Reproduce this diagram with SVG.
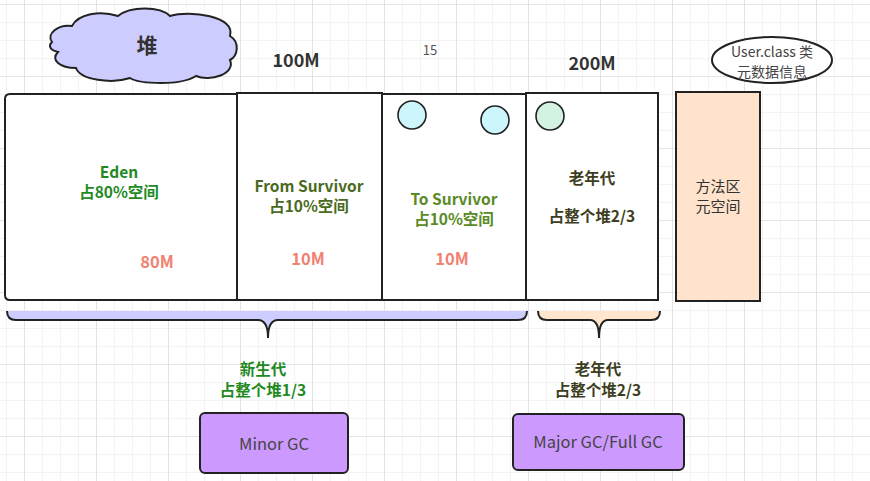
<svg xmlns="http://www.w3.org/2000/svg" width="870" height="481" viewBox="0 0 870 481">
<defs>
<pattern id="gmin" x="6" y="4" width="18" height="18" patternUnits="userSpaceOnUse">
<path d="M0,0 V18 M0,0 H18" stroke="#e8e8e8" stroke-width="1" fill="none"/>
</pattern>
<pattern id="gmaj" x="24" y="4" width="72" height="72" patternUnits="userSpaceOnUse">
<path d="M0,0 V72 M0,0 H72" stroke="#d8d8d8" stroke-width="1.2" fill="none"/>
</pattern>
</defs>
<style>
.box{fill:#fff;stroke:#222;stroke-width:2}
.t{font-family:"Noto Sans CJK SC","Noto Sans",sans-serif;text-anchor:middle}
.b{font-weight:bold}
.lbl{font-size:15.5px}
.big{font-size:18px;fill:#333}
.green{fill:#1f8a1f}
.olive{fill:#4b6a1e}
.olive2{fill:#5a8a26}
.dark{fill:#3d3d22}
.size{fill:#f08272;font-size:16.5px}
.circ{stroke:#222;stroke-width:1.6}
.gc{fill:#cc99ff;stroke:#222;stroke-width:2}
.gct{font-size:16.5px;fill:#444}
</style>
<rect width="870" height="481" fill="#fff"/>
<rect width="870" height="481" fill="url(#gmin)"/>
<rect width="870" height="481" fill="url(#gmaj)"/>

<g id="heap-cloud">
<path d="M52,42 C46,34 58,24 72,26 C78,14 100,10 118,16 C130,6 160,6 170,16 C190,10 236,16 230,36 C240,42 238,56 230,60 C236,74 210,82 196,76 C180,86 140,84 130,78 C112,84 80,80 76,68 C60,68 50,60 58,52 C50,50 48,46 52,42 Z" fill="#ccccff" stroke="#222" stroke-width="2"/>
<text class="t b" x="147" y="53" font-size="21" fill="#333">堆</text>
</g>

<g id="label-100m"><text class="t b big" x="296" y="67">100M</text></g>
<g id="label-15"><text class="t" x="430" y="55" font-size="13" fill="#555">15</text></g>
<g id="label-200m"><text class="t b big" x="592" y="70">200M</text></g>

<g id="metadata-note">
<ellipse cx="772" cy="60" rx="60" ry="23" fill="#fff" stroke="#222" stroke-width="2"/>
<text class="t" x="772" y="57" font-size="14" fill="#444">User.class 类</text>
<text class="t" x="772" y="77" font-size="14" fill="#444">元数据信息</text>
</g>

<g id="eden">
<path class="box" d="M237,94 H10 Q5,94 5,99 V295 Q5,300 10,300 H237 Z"/>
<text class="t b lbl green" x="119" y="178">Eden</text>
<text class="t b lbl green" x="119" y="198">占80%空间</text>
<text class="t b size" x="157" y="268">80M</text>
</g>

<g id="from-survivor">
<rect class="box" x="237" y="93" width="145" height="207" stroke-width="2.4"/>
<text class="t b lbl olive" x="309" y="192">From Survivor</text>
<text class="t b lbl olive" x="309" y="212">占10%空间</text>
<text class="t b size" x="308" y="265">10M</text>
</g>

<g id="to-survivor">
<rect class="box" x="382" y="94" width="144" height="206"/>
<circle class="circ" cx="412" cy="115" r="14" fill="#ccf5fc"/>
<circle class="circ" cx="495" cy="120" r="14" fill="#ccf5fc"/>
<text class="t b lbl olive2" x="454" y="205">To Survivor</text>
<text class="t b lbl olive2" x="454" y="225">占10%空间</text>
<text class="t b size" x="452" y="265">10M</text>
</g>

<g id="old-gen">
<rect class="box" x="526" y="93" width="132" height="207"/>
<circle class="circ" cx="550" cy="116" r="14" fill="#d2f2e2"/>
<text class="t b lbl dark" x="592" y="184">老年代</text>
<text class="t b lbl dark" x="592" y="222">占整个堆2/3</text>
</g>

<g id="method-area">
<rect x="676" y="92" width="84" height="209" fill="#ffe3cc" stroke="#222" stroke-width="2"/>
<text class="t" x="718" y="192" font-size="15" fill="#333">方法区</text>
<text class="t" x="718" y="212" font-size="15" fill="#333">元空间</text>
</g>

<g id="young-brace">
<path d="M7,311 Q7,320 16,320 L258,320 Q268,320 268,338 Q268,320 278,320 L518,320 Q527,320 527,311 Z" fill="#ccccff"/>
<path d="M7,311 Q7,320 16,320 L258,320 Q268,320 268,338 Q268,320 278,320 L518,320 Q527,320 527,311" fill="none" stroke="#222" stroke-width="2"/>
<text class="t b lbl green" x="263" y="375">新生代</text>
<text class="t b lbl green" x="263" y="396">占整个堆1/3</text>
</g>

<g id="old-brace">
<path d="M538,311 Q538,320 547,320 L590,320 Q599,320 599,338 Q599,320 608,320 L651,320 Q660,320 660,311 Z" fill="#ffe6cc"/>
<path d="M538,311 Q538,320 547,320 L590,320 Q599,320 599,338 Q599,320 608,320 L651,320 Q660,320 660,311" fill="none" stroke="#222" stroke-width="2"/>
<text class="t b lbl dark" x="598" y="375">老年代</text>
<text class="t b lbl dark" x="598" y="396">占整个堆2/3</text>
</g>

<g id="minor-gc">
<rect class="gc" x="200" y="413" width="148" height="60" rx="5"/>
<text class="t gct" x="274" y="450">Minor GC</text>
</g>

<g id="major-gc">
<rect class="gc" x="513" y="414" width="171" height="56" rx="5"/>
<text class="t gct" x="598" y="448">Major GC/Full GC</text>
</g>

<g id="connectors"></g>
</svg>
